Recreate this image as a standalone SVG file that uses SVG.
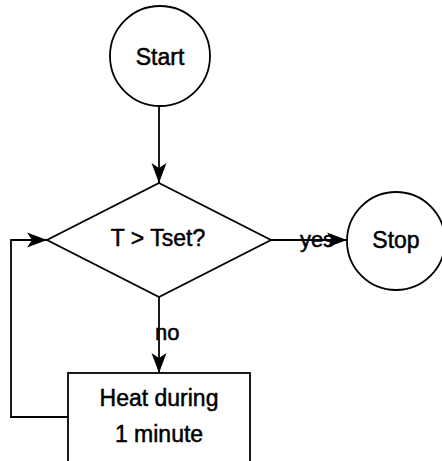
<svg xmlns="http://www.w3.org/2000/svg" width="442" height="461" viewBox="0 0 442 461">
  <style>
    .shape { fill: #ffffff; stroke: #000000; stroke-width: 1.8; }
    .conn { fill: none; stroke: #000000; stroke-width: 1.8; }
    .lbl { font-family: "Liberation Sans", Arial, sans-serif; font-size: 23px; fill: #000000; stroke: #000000; stroke-width: 0.5; text-anchor: middle; }
    .elbl { font-family: "Liberation Sans", Arial, sans-serif; font-size: 22px; fill: #000000; stroke: #000000; stroke-width: 0.5; }
  </style>
  <defs>
    <marker id="arrow" markerUnits="userSpaceOnUse" markerWidth="22" markerHeight="16" viewBox="-21 -8 22 16" refX="0" refY="0" orient="auto">
      <path d="M0,0 L-20,-7.5 L-15,0 L-20,7.5 Z" fill="#000000"/>
    </marker>
  </defs>
  <rect width="442" height="461" fill="#ffffff"/>
  <g id="connectors">
    <path id="c-start-dec" class="conn" d="M159,106 L159,183" marker-end="url(#arrow)"/>
    <path id="c-dec-stop" class="conn" d="M271,240 L347,240" marker-end="url(#arrow)"/>
    <path id="c-dec-heat" class="conn" d="M159,297 L159,373" marker-end="url(#arrow)"/>
    <path id="c-heat-dec" class="conn" d="M68,417 L11,417 L11,240 L47,240" marker-end="url(#arrow)"/>
    <text class="elbl" x="317" y="247" text-anchor="middle">yes</text>
    <text class="elbl" x="155" y="340">no</text>
  </g>
  <g id="start">
    <circle class="shape" cx="160" cy="56" r="50"/>
    <text class="lbl" x="160" y="65">Start</text>
  </g>
  <g id="decision">
    <polygon class="shape" points="159,183 271,240 159,297 47,240"/>
    <text class="lbl" x="158" y="246">T &gt; Tset?</text>
  </g>
  <g id="stop">
    <circle class="shape" cx="396" cy="241" r="49"/>
    <text class="lbl" x="396" y="248">Stop</text>
  </g>
  <g id="heat">
    <rect class="shape" x="68" y="373" width="182" height="100"/>
    <text class="lbl" x="159" y="406">Heat during</text>
    <text class="lbl" x="159" y="442">1 minute</text>
  </g>
</svg>
